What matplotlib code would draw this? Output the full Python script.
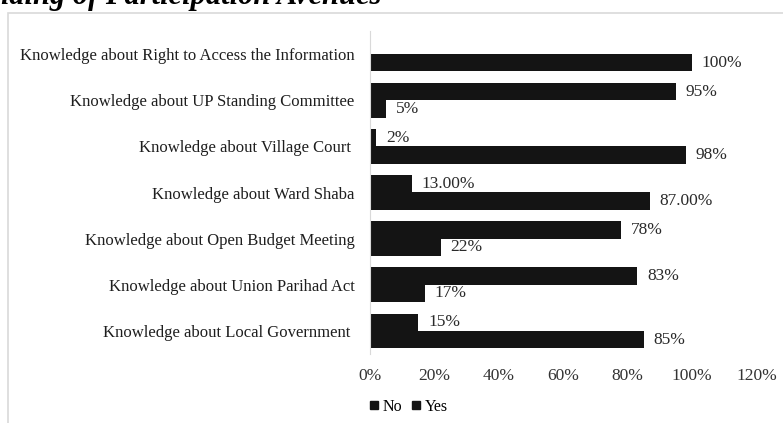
import matplotlib.pyplot as plt
import numpy as np
from matplotlib.lines import Line2D
from matplotlib.patches import Rectangle

plt.rcParams['font.family'] = ['Liberation Serif', 'DejaVu Serif']

# categories listed bottom to top, as on the axis
categories = [
    "Knowledge about Local Government ",
    "Knowledge about Union Parihad Act",
    "Knowledge about Open Budget Meeting",
    "Knowledge about Ward Shaba",
    "Knowledge about Village Court ",
    "Knowledge about UP Standing Committee",
    "Knowledge about Right to Access the Information",
]
no_vals = [85, 17, 22, 87, 98, 5, 100]
yes_vals = [15, 83, 78, 13, 2, 95, np.nan]
label_decimals = [0, 0, 0, 2, 0, 0, 0]
x_ticks = [0, 20, 40, 60, 80, 100, 120]

W, H = 783, 423
fig = plt.figure(figsize=(W / 100, H / 100), dpi=100)

# light frame around the chart area
fig.patches.append(Rectangle((8 / W, -0.1), 1.0, 1 - 13 / H + 0.1,
                             transform=fig.transFigure, fill=False,
                             edgecolor='#d9d9d9', linewidth=1.2))

ax = fig.add_axes([370 / W, 1 - 354 / H, (756.4 - 370) / W, (354 - 31) / H])

y = np.arange(len(categories))
h = 0.375
bar_col = '#141414'
ax.barh(y - h / 2, no_vals, height=h, color=bar_col, label='No')
ax.barh(y + h / 2, yes_vals, height=h, color=bar_col, label='Yes')

for i in range(len(categories)):
    for val, yy in ((no_vals[i], y[i] - h / 2), (yes_vals[i], y[i] + h / 2)):
        if np.isnan(val):
            continue
        ax.annotate(f"{val:.{label_decimals[i]}f}%", (val, yy),
                    xytext=(7, 0), textcoords='offset points',
                    va='center', ha='left', fontsize=12.5, color='#2a2a2a')

ax.set_xlim(0, 120)
ax.set_ylim(-0.5, len(categories) - 0.5)
ax.set_xticks(x_ticks)
ax.set_xticklabels([f"{t}%" for t in x_ticks])
ax.set_yticks(y)
ax.set_yticklabels(categories)
ax.tick_params(axis='x', length=0, pad=10, labelsize=12.5, labelcolor='#333333')
ax.tick_params(axis='y', length=0, pad=11, labelsize=12, labelcolor='#1e1e1e')

for s in ('top', 'right', 'bottom'):
    ax.spines[s].set_visible(False)
ax.spines['left'].set_color('#d9d9d9')

handles = [Line2D([], [], marker='s', linestyle='none', color=bar_col,
                  markersize=6, label=lab) for lab in ('No', 'Yes')]
fig.legend(handles=handles, loc='center left', bbox_to_anchor=(368 / W, 1 - 407 / H),
           ncol=2, frameon=False, fontsize=11.5, handletextpad=0.1,
           columnspacing=0.5, handlelength=0.8, borderaxespad=0, borderpad=0)

fig.text(381 / W, 1 - 4 / H, "Understanding of Participation Avenues",
         ha='right', va='baseline', fontsize=22, fontweight='bold',
         fontstyle='italic')

fig.savefig('out.png', dpi=100)
